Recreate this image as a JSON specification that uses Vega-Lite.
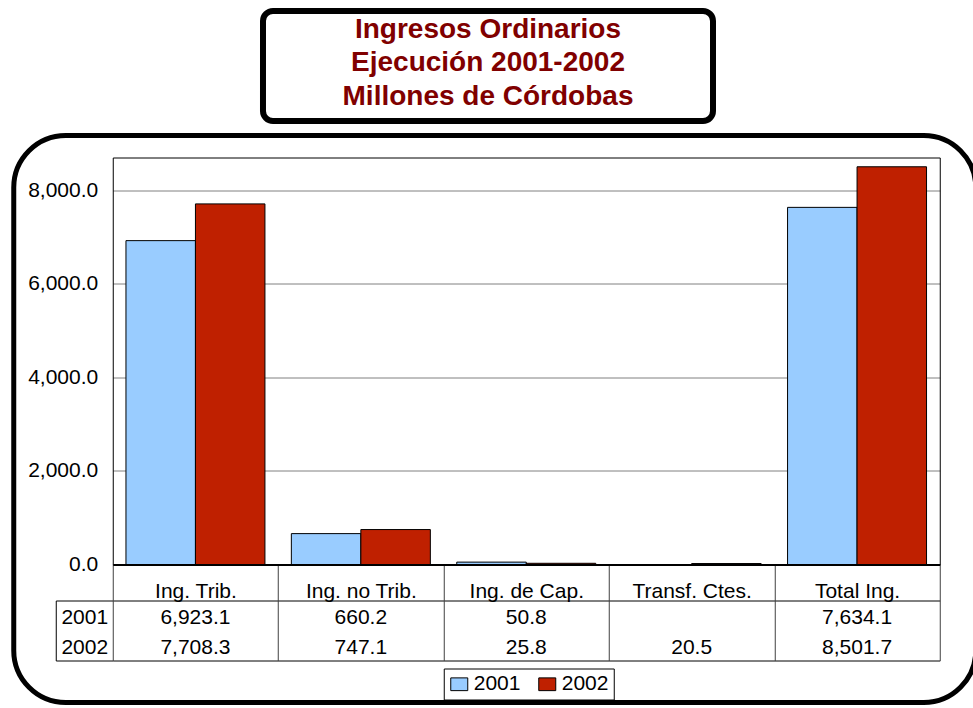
{
  "$schema": "https://vega.github.io/schema/vega-lite/v6.json",
  "background": "white",
  "padding": {"left": 10.5, "top": 8, "right": 0, "bottom": 0},
  "config": {
    "font": "Liberation Sans",
    "view": {"stroke": null},
    "axis": {"labelFont": "Liberation Sans", "labelColor": "black", "minExtent": 0, "maxExtent": 0},
    "legend": {"labelFont": "Liberation Sans"}
  },
  "center": true,
  "spacing": -2.5,
  "resolve": {"scale": {"color": "independent"}},
  "vconcat": [
    {
      "width": 450,
      "height": 110,
      "view": {"stroke": "black", "strokeWidth": 6, "cornerRadius": 10, "fill": "white"},
      "data": {"values": [{"titulo": "Ingresos Ordinarios\nEjecución 2001-2002\nMillones de Córdobas"}]},
      "layer": [
        {
          "mark": {"type": "text", "lineBreak": "\n", "fontSize": 28, "fontWeight": "bold", "color": "#800000", "lineHeight": 33.4, "baseline": "middle", "align": "center", "dy": -36, "font": "Liberation Sans"},
          "encoding": {"text": {"field": "titulo", "type": "nominal"}}
        },
        {
          "mark": {"type": "text", "text": " ", "fontSize": 28, "align": "left", "baseline": "middle", "dx": 238, "font": "Liberation Sans"},
          "encoding": {}
        }
      ]
    },
    {
      "width": 962,
      "height": 567,
      "view": {"stroke": "black", "strokeWidth": 5, "cornerRadius": 52, "fill": "white"},
      "data": {"values": [
        {"cat": "Ing. Trib.", "year": "2001", "value": 6923.1},
        {"cat": "Ing. Trib.", "year": "2002", "value": 7708.3},
        {"cat": "Ing. no Trib.", "year": "2001", "value": 660.2},
        {"cat": "Ing. no Trib.", "year": "2002", "value": 747.1},
        {"cat": "Ing. de Cap.", "year": "2001", "value": 50.8},
        {"cat": "Ing. de Cap.", "year": "2002", "value": 25.8},
        {"cat": "Transf. Ctes.", "year": "2002", "value": 20.5},
        {"cat": "Total Ing.", "year": "2001", "value": 7634.1},
        {"cat": "Total Ing.", "year": "2002", "value": 8501.7}
      ]},
      "resolve": {"scale": {"y": "independent"}, "axis": {"x": "independent", "y": "independent"}},
      "layer": [
        {
          "mark": {"type": "bar", "stroke": "black", "strokeWidth": 1},
          "encoding": {
            "x": {"field": "cat", "type": "nominal",
              "scale": {"domain": ["Ing. Trib.", "Ing. no Trib.", "Ing. de Cap.", "Transf. Ctes.", "Total Ing."], "range": [99, 926], "paddingInner": 0, "paddingOuter": 0},
              "axis": {"orient": "bottom", "offset": -138, "title": null, "zindex": 1,
                "domain": true, "domainColor": "black", "domainWidth": 2,
                "ticks": true, "tickBand": "extent", "tickSize": 96, "tickColor": "#404040", "tickWidth": 1,
                "labels": true, "labelFontSize": 21, "labelColor": "black", "labelBaseline": "alphabetic", "labelPadding": -63, "labelAngle": 0, "labelOverlap": false, "labelLimit": 0,
                "grid": false}},
            "xOffset": {"field": "year", "type": "nominal", "scale": {"domain": ["2001", "2002"], "paddingOuter": 0.19, "paddingInner": 0}},
            "y": {"field": "value", "type": "quantitative",
              "scale": {"domain": [0, 8700], "range": [429, 22], "nice": false, "zero": true},
              "axis": {"orient": "left", "offset": -99, "title": null, "values": [0, 2000, 4000, 6000, 8000], "format": ",.1f",
                "domain": true, "domainColor": "black", "domainWidth": 1, "ticks": false,
                "grid": true, "gridColor": "#808080", "gridWidth": 1,
                "labelFontSize": 21, "labelColor": "black", "labelPadding": 15, "labelBaseline": "middle"}},
            "color": {"field": "year", "type": "nominal",
              "scale": {"domain": ["2001", "2002"], "range": ["#99CCFF", "#BF2000"]},
              "legend": {"orient": "none", "legendX": 430, "legendY": 533, "direction": "horizontal", "title": null,
                "strokeColor": "black", "fillColor": "white", "padding": 5,
                "labelFontSize": 21, "labelColor": "black", "labelOffset": 4, "columnPadding": 16,
                "symbolType": "M-1,-0.75H1V0.75H-1Z", "symbolSize": 289, "symbolStrokeColor": "black", "symbolStrokeWidth": 1, "symbolOpacity": 1}}
          }
        },
        {
          "mark": {"type": "point", "opacity": 0},
          "encoding": {
            "x": {"field": "cat", "type": "nominal",
              "scale": {"domain": ["Ing. Trib.", "Ing. no Trib.", "Ing. de Cap.", "Transf. Ctes.", "Total Ing."], "range": [99, 926], "paddingInner": 0, "paddingOuter": 0},
              "axis": {"orient": "top", "offset": -22, "title": null, "domain": true, "domainColor": "black", "domainWidth": 1, "ticks": false, "labels": false, "grid": false}},
            "y": {"field": "value", "type": "quantitative",
              "scale": {"domain": [0, 8700], "range": [429, 22], "nice": false},
              "axis": {"orient": "right", "offset": -36, "title": null, "domain": true, "domainColor": "black", "domainWidth": 1, "ticks": false, "labels": false, "grid": false}}
          }
        },
        {
          "mark": {"type": "text", "fontSize": 21, "baseline": "middle", "align": "center", "dy": 2, "color": "black", "font": "Liberation Sans"},
          "encoding": {
            "x": {"field": "cat", "type": "nominal",
              "scale": {"domain": ["Ing. Trib.", "Ing. no Trib.", "Ing. de Cap.", "Transf. Ctes.", "Total Ing."], "range": [99, 926], "paddingInner": 0, "paddingOuter": 0},
              "axis": null},
            "y": {"field": "year", "type": "nominal",
              "scale": {"type": "band", "domain": ["2001", "2002"], "range": [465, 525], "paddingInner": 0, "paddingOuter": 0},
              "axis": {"orient": "left", "offset": -42, "title": null,
                "domain": true, "domainColor": "black", "domainWidth": 1,
                "ticks": true, "tickBand": "extent", "tickSize": -57, "tickColor": "black", "tickWidth": 1,
                "tickOpacity": {"condition": {"test": "datum.value === '2001' && !datum.extra", "value": 0}, "value": 1},
                "grid": true, "gridColor": "black", "gridWidth": 1,
                "gridOpacity": {"condition": {"test": "datum.value === '2001' && !datum.extra", "value": 0}, "value": 1},
                "labels": true, "labelAlign": "center", "labelBaseline": "middle", "labelPadding": 28.5, "labelOffset": 2,
                "labelFontSize": 21, "labelColor": "black"}},
            "text": {"field": "value", "type": "quantitative", "format": ",.1f"}
          }
        }
      ]
    }
  ]
}
